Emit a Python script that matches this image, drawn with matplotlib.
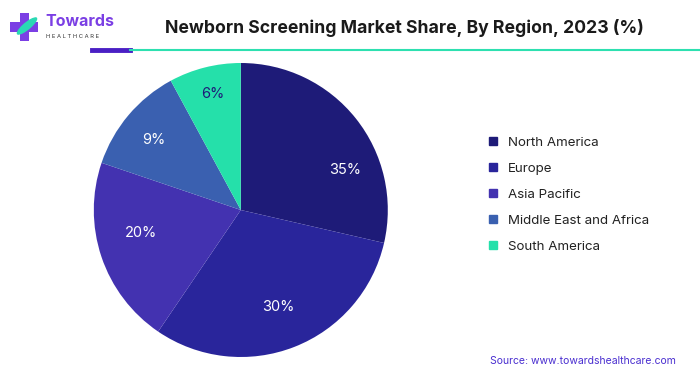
import numpy as np
import matplotlib.pyplot as plt
from matplotlib.patches import Rectangle, Ellipse
from matplotlib.lines import Line2D

plt.rcParams['font.family'] = ['Inter', 'DejaVu Sans']

# data
regions = ['North America', 'Europe', 'Asia Pacific', 'Middle East and Africa', 'South America']
pct_labels = ['35%', '30%', '20%', '9%', '6%']
# slice sizes as drawn in the picture (they do not follow the printed labels exactly)
slice_sizes = [28.6, 30.9, 20.7, 11.9, 7.9]
colors = ['#1e1b78', '#29259b', '#4332b0', '#3a60b0', '#25e0aa']
label_colors = ['white', 'white', 'white', 'white', '#1e1b78']
# where the percentage labels sit (angle in degrees, fraction of radius)
label_angles = [21, -69, 193, 141.5, 103.6]
label_radii = [0.76, 0.71, 0.70, 0.76, 0.81]

fig = plt.figure(figsize=(7, 3.75), dpi=100)
fig.patch.set_facecolor('white')

# pie axes (center ~ (241,210) px, radius ~147 px)
ax = fig.add_axes([0.344 - 0.21, 0.44 - 0.392, 0.42, 0.784])
ax.pie(slice_sizes, colors=colors, startangle=90, counterclock=False,
       wedgeprops=dict(linewidth=0, edgecolor='none'))
for lab, ang, r, c in zip(pct_labels, label_angles, label_radii, label_colors):
    a = np.deg2rad(ang)
    ax.text(r * np.cos(a), r * np.sin(a), lab, ha='center', va='center',
            fontsize=10.5, color=c)
ax.set_xlim(-1, 1)
ax.set_ylim(-1, 1)
ax.set_aspect('equal')

# legend
handles = [Line2D([0], [0], marker='s', linestyle='none', markersize=6,
                  markerfacecolor=c, markeredgecolor=c) for c in colors]
fig.legend(handles, regions, loc='upper left', bbox_to_anchor=(0.678, 0.668),
           frameon=False, fontsize=9.6, labelspacing=1.03, handletextpad=0.6,
           handlelength=1.0, labelcolor='#222222')

# title
fig.text(0.578, 0.926, 'Newborn Screening Market Share, By Region, 2023 (%)',
         ha='center', va='center', fontsize=12.7, fontweight='bold', color='#1a1a1a')

# underline: purple piece then teal line
fig.add_artist(Line2D([92 / 700, 130 / 700], [1 - 50 / 375] * 2, color='#4a1fc4', lw=3.5))
fig.add_artist(Line2D([130 / 700, 1.0], [1 - 50 / 375] * 2, color='#2de0b0', lw=1.5))

# logo: a cross with a leaf and the brand text
lx, ly = 24 / 700, 1 - 27 / 375
fig.add_artist(Rectangle((lx - 4.5 / 700, ly - 14 / 375), 9 / 700, 28 / 375,
                         transform=fig.transFigure, color='#7b3fe4', lw=0))
fig.add_artist(Rectangle((lx - 14 / 700, ly - 4.5 / 375), 28 / 700, 9 / 375,
                         transform=fig.transFigure, color='#7b3fe4', lw=0))
fig.add_artist(Ellipse((lx + 3 / 700, ly + 1 / 375), 10 / 700, 20 / 375, angle=-30,
                       transform=fig.transFigure, color='#2ad9b4', lw=0))
fig.text(45 / 700, 1 - 22 / 375, 'Towards', fontsize=11.5, fontweight='bold',
         color='#7b3fe4', va='center', ha='left')
fig.text(46 / 700, 1 - 37 / 375, 'H E A L T H C A R E', fontsize=4.2,
         color='#333333', va='center', ha='left')

# source
fig.text(676 / 700, 1 - 361 / 375, 'Source: www.towardshealthcare.com',
         ha='right', va='center', fontsize=7.5, color='#4a2fd0')

fig.savefig('out.png', dpi=100, facecolor='white')
